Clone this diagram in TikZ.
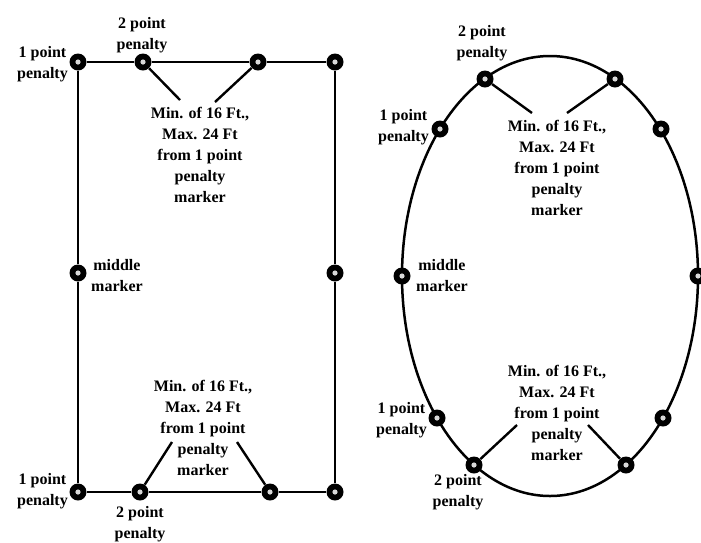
\documentclass[tikz,border=0pt]{standalone}
\usepackage{fontspec}
\setmainfont{Liberation Serif}
\begin{document}
\begin{tikzpicture}[x=1pt,y=-1pt,
  font=\bfseries\fontsize{16}{21}\selectfont,
  mk/.style={circle,fill=black,draw=none,inner sep=0pt,minimum size=17pt,
    path picture={\fill[black!15] (path picture bounding box.center) circle (2.6pt);}},
  edge/.style={line width=2.4pt,draw=black},
  lead/.style={line width=2.4pt,draw=black},
  lab/.style={align=center,inner sep=0pt}]
\useasboundingbox (0,0) rectangle (701,542);
% ---------- rectangle ----------
\node[mk] (r1) at (78,62) {};
\node[mk] (r2) at (143,62) {};
\node[mk] (r3) at (258,62) {};
\node[mk] (r4) at (335,62) {};
\node[mk] (r5) at (78,273) {};
\node[mk] (r6) at (335,273) {};
\node[mk] (r7) at (78,492) {};
\node[mk] (r8) at (140,492) {};
\node[mk] (r9) at (270,492) {};
\node[mk] (r10) at (335,492) {};
\draw[edge] (r1)--(r2)--(r3)--(r4)--(r6)--(r10)--(r9)--(r8)--(r7)--(r5)--(r1);
\node[lab,anchor=east] (rl1) at (68,64) {1 point\\penalty};
\node[lab] (rl2) at (142,35) {2 point\\penalty};
\node[lab] (rt1) at (200,155) {Min. of 16 Ft.,\\Max. 24 Ft\\from 1 point\\penalty\\marker};
\coordinate (ra1) at (180,100);
\coordinate (ra2) at (215,102);
\draw[lead] (r2) -- (ra1);
\draw[lead] (r3) -- (ra2);
\node[lab,anchor=west] (rl3) at (91,276) {middle\\marker};
\node[lab,anchor=east] (rl4) at (68,491) {1 point\\penalty};
\node[lab] (rl5) at (140,524) {2 point\\penalty};
\node[lab] (rt2) at (203,428) {Min. of 16 Ft.,\\Max. 24 Ft\\from 1 point\\penalty\\marker};
\coordinate (ra3) at (172,442);
\coordinate (ra4) at (237,442);
\draw[lead] (r8) -- (ra3);
\draw[lead] (r9) -- (ra4);
% ---------- ellipse ----------
\coordinate (ec) at (550,276);
\draw[line width=2.5pt] (ec) ellipse [x radius=148, y radius=220];
\node[mk] (e1) at (485,79) {};
\node[mk] (e2) at (615,79) {};
\node[mk] (e3) at (440,129) {};
\node[mk] (e4) at (661,129) {};
\node[mk] (e5) at (402,276) {};
\node[mk] (e6) at (698,276) {};
\node[mk] (e7) at (437,418) {};
\node[mk] (e8) at (663,418) {};
\node[mk] (e9) at (474,465) {};
\node[mk] (e10) at (626,465) {};
\node[lab] (el1) at (482,43) {2 point\\penalty};
\node[lab,anchor=east] (el2) at (429,127) {1 point\\penalty};
\node[lab] (et1) at (557,168) {Min. of 16 Ft.,\\Max. 24 Ft\\from 1 point\\penalty\\marker};
\coordinate (ea1) at (532,113);
\coordinate (ea2) at (567,113);
\draw[lead] (e1) -- (ea1);
\draw[lead] (e2) -- (ea2);
\node[lab,anchor=west] (el3) at (416,276) {middle\\marker};
\node[lab,anchor=east] (el4) at (427,420) {1 point\\penalty};
\node[lab] (el5) at (458,492) {2 point\\penalty};
\node[lab] (et2) at (557,413) {Min. of 16 Ft.,\\Max. 24 Ft\\from 1 point\\penalty\\marker};
\coordinate (ea3) at (517,425);
\coordinate (ea4) at (588,425);
\draw[lead] (e9) -- (ea3);
\draw[lead] (e10) -- (ea4);
\end{tikzpicture}
\end{document}
